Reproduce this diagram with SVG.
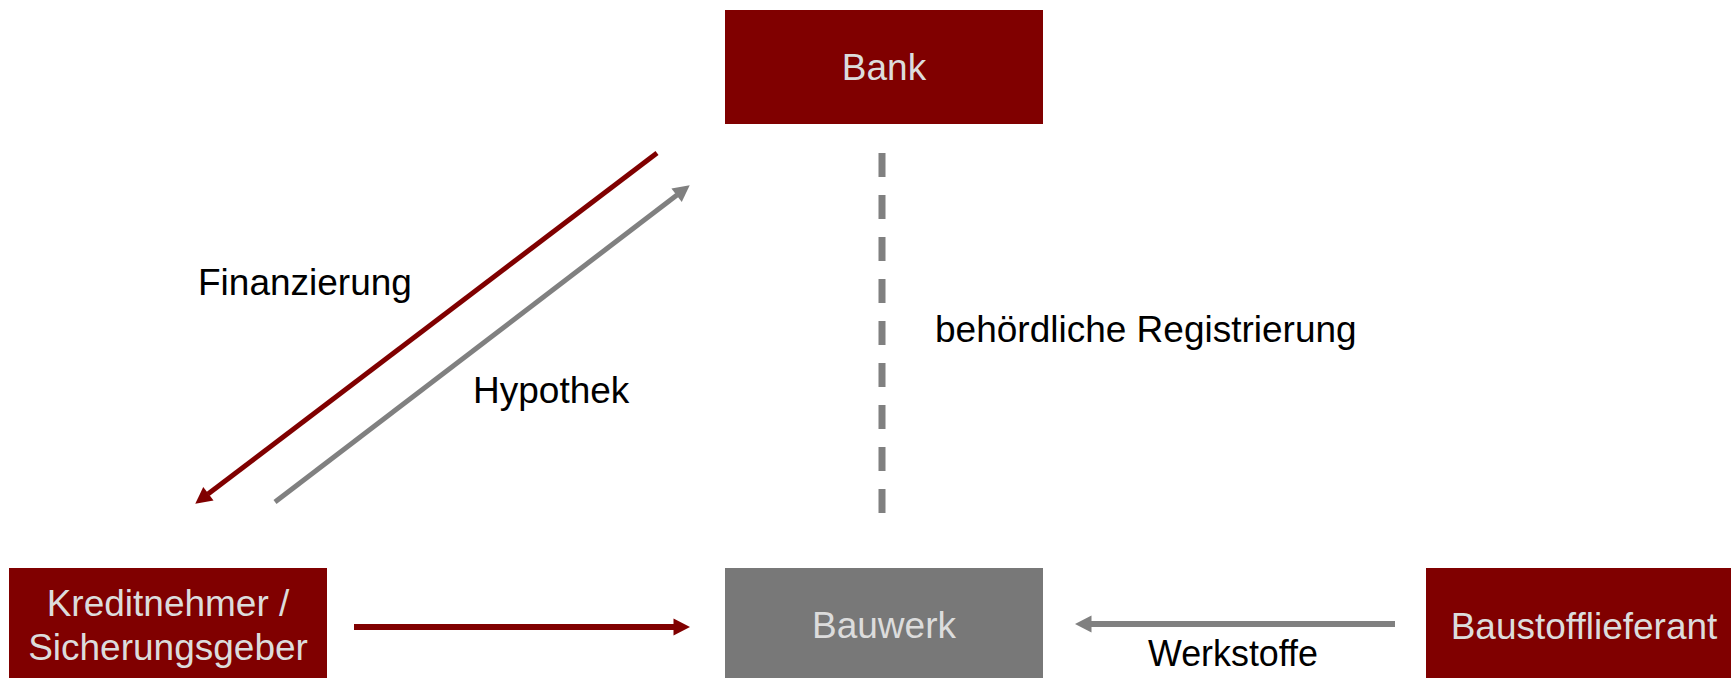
<svg xmlns="http://www.w3.org/2000/svg" width="1731" height="678" viewBox="0 0 1731 678">
  <defs>
    <style>
      .red { fill: #800000; }
      .grey { fill: #787878; }
      .boxtext { font-family: "Liberation Sans", Arial, sans-serif; font-size: 37px; fill: #dcdcdc; text-anchor: middle; }
      .label { font-family: "Liberation Sans", Arial, sans-serif; font-size: 37px; fill: #000000; }
      .lred { stroke: #800000; fill: none; }
      .lgrey { stroke: #808080; fill: none; }
    </style>
    <marker id="headRed" markerUnits="userSpaceOnUse" viewBox="0 -9 17 18" markerWidth="17" markerHeight="18" refX="0.5" refY="0" orient="auto" overflow="visible">
      <path d="M0,-8.5 L16.5,0 L0,8.5 z" fill="#800000"/>
    </marker>
    <marker id="headGrey" markerUnits="userSpaceOnUse" viewBox="0 -9 17 18" markerWidth="17" markerHeight="18" refX="0.5" refY="0" orient="auto" overflow="visible">
      <path d="M0,-8.5 L16.5,0 L0,8.5 z" fill="#808080"/>
    </marker>
  </defs>

  <g id="connectors">
    <line id="finanzierung-arrow" class="lred" x1="657" y1="153" x2="208" y2="494" stroke-width="5" marker-end="url(#headRed)"/>
    <line id="hypothek-arrow" class="lgrey" x1="275" y1="502" x2="677" y2="195" stroke-width="5" marker-end="url(#headGrey)"/>
    <line id="registrierung-line" class="lgrey" x1="882" y1="153" x2="882" y2="513" stroke-width="7" stroke-dasharray="24 18"/>
    <line id="kredit-bauwerk-arrow" class="lred" x1="354" y1="627" x2="674" y2="627" stroke-width="6" marker-end="url(#headRed)"/>
    <line id="werkstoffe-arrow" class="lgrey" x1="1395" y1="624" x2="1091" y2="624" stroke-width="6" marker-end="url(#headGrey)"/>
    <text class="label" x="198" y="295">Finanzierung</text>
    <text class="label" x="473" y="403">Hypothek</text>
    <text class="label" x="935" y="342">behördliche Registrierung</text>
    <text class="label" x="1233" y="666" text-anchor="middle" textLength="170" lengthAdjust="spacingAndGlyphs">Werkstoffe</text>
  </g>

  <g id="bank">
    <rect class="red" x="725" y="10" width="318" height="114"/>
    <text class="boxtext" x="884" y="80">Bank</text>
  </g>

  <g id="kreditnehmer">
    <rect class="red" x="9" y="568" width="318" height="114"/>
    <text class="boxtext" x="168" y="616">Kreditnehmer /</text>
    <text class="boxtext" x="168" y="660">Sicherungsgeber</text>
  </g>

  <g id="bauwerk">
    <rect class="grey" x="725" y="568" width="318" height="114"/>
    <text class="boxtext" x="884" y="638">Bauwerk</text>
  </g>

  <g id="baustofflieferant">
    <rect class="red" x="1426" y="568" width="318" height="114"/>
    <text class="boxtext" x="1584" y="639">Baustofflieferant</text>
  </g>
</svg>
